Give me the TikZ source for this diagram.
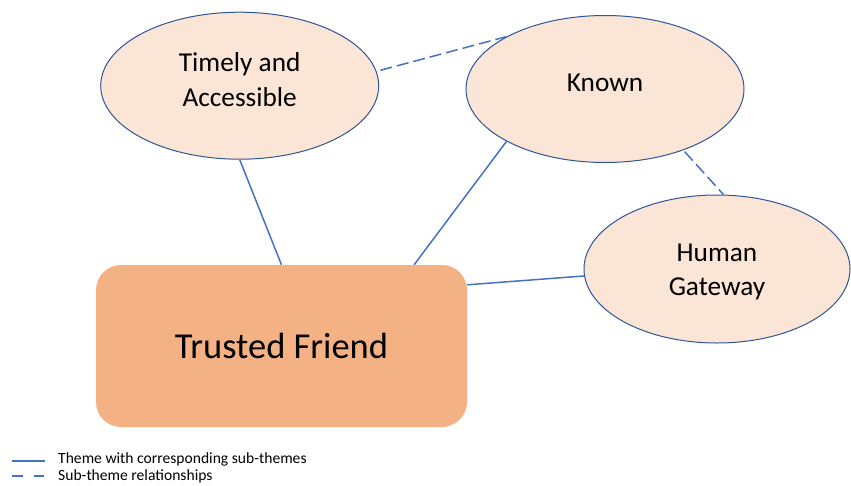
\documentclass[tikz,border=0pt]{standalone}
\usepackage{fontspec}
\setmainfont{Carlito}
\usetikzlibrary{shapes.geometric,calc}

\definecolor{subfill}{HTML}{FBE5D6}
\definecolor{subedge}{HTML}{2F5597}
\definecolor{themefill}{HTML}{F4B183}
\definecolor{linkblue}{HTML}{4472C4}

\tikzset{
  subtheme/.style={ellipse, draw=subedge, line width=1pt, fill=subfill, inner sep=0pt},
  subtext/.style={align=center, inner sep=0pt, font=\fontsize{27.3}{34.5}\selectfont},
  theme/.style={rectangle, rounded corners=25pt, fill=themefill,
    minimum width=371pt, minimum height=162pt, inner sep=0pt,
    font=\fontsize{36.5}{44}\selectfont},
  link/.style={draw=linkblue, line width=1.5pt},
  sublink/.style={link, dash pattern=on 12pt off 5pt},
  keyline/.style={draw=linkblue, line width=1.6pt},
  legendtext/.style={anchor=west, inner sep=0pt, font=\fontsize{15.6}{18}\selectfont}
}

\begin{document}
\begin{tikzpicture}[x=1pt, y=-1pt]
  \useasboundingbox (0,0) rectangle (851,485);

  % main theme and its sub-themes
  \node[theme] (tf) at (281.5,346) {Trusted Friend};
  \node[subtheme, minimum width=278pt, minimum height=147pt] (tim) at (239.7,85.7) {};
  \node[subtheme, minimum width=278pt, minimum height=147pt] (kn) at (605,89) {};
  \node[subtheme, minimum width=266pt, minimum height=148pt] (hg) at (717,269) {};

  % sub-theme titles
  \node[subtext] (timtxt) at ($(tim.center)+(0,-6)$) {Timely and\\Accessible};
  \node[subtext] (kntxt) at ($(kn.center)+(0,-6)$) {Known};
  \node[subtext] (hgtxt) at ($(hg.center)+(0,3)$) {Human\\Gateway};

  % theme to sub-theme links
  \draw[link] (tim.south) -- (tf.north);
  \draw[link] (kn.208.2) -- ($(tf.north west)!0.857!(tf.north east)$);
  \draw[link] (hg.183.4) -- ($(tf.north east)+(0,20)$);

  % sub-theme relationships
  \draw[sublink, shorten <=4pt] (tim.6) -- (kn.152.3);
  \draw[sublink, shorten <=2pt] (kn.-38) -- (hg.85.2);

  % key
  \coordinate (k1a) at (12,461);
  \coordinate (k1b) at (45,461);
  \coordinate (k2a) at (12,476);
  \coordinate (k2b) at (45,476);
  \draw[keyline] (k1a) -- (k1b);
  \draw[keyline, dash pattern=on 10.5pt off 11pt] (k2a) -- (k2b);
  \node[legendtext] (key1) at (58,459) {Theme with corresponding sub-themes};
  \node[legendtext] (key2) at (58,476) {Sub-theme relationships};
\end{tikzpicture}
\end{document}
